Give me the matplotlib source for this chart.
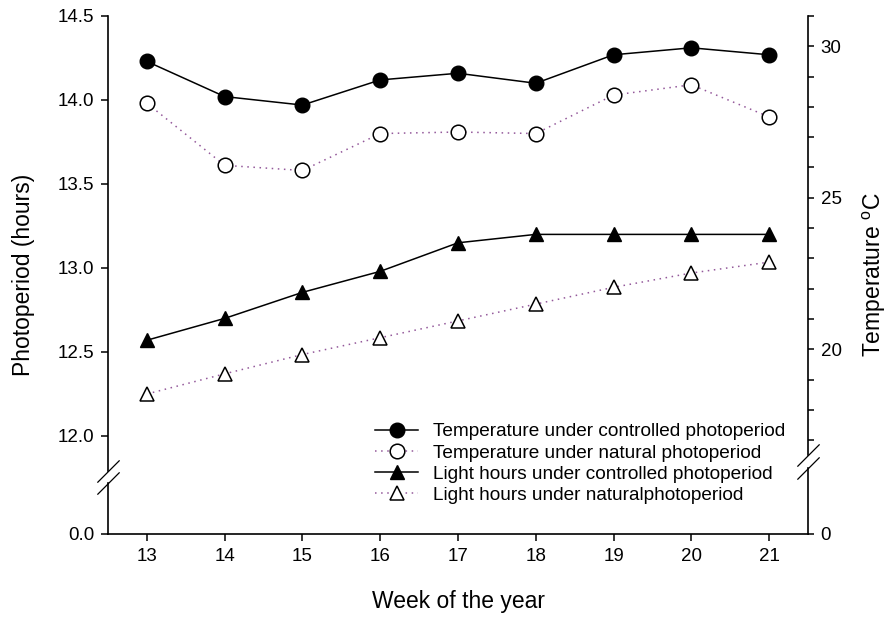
import numpy as np
import matplotlib
matplotlib.use("Agg")
import matplotlib.pyplot as plt
from matplotlib.lines import Line2D

plt.rcParams['font.family'] = ['Liberation Sans', 'DejaVu Sans']
plt.rcParams['mathtext.fontset'] = 'custom'
plt.rcParams['mathtext.rm'] = 'Liberation Sans'

weeks = [13, 14, 15, 16, 17, 18, 19, 20, 21]
temp_controlled = [29.50, 28.34, 28.06, 28.89, 29.11, 28.78, 29.72, 29.95, 29.72]
temp_natural = [28.12, 26.07, 25.90, 27.12, 27.17, 27.12, 28.39, 28.73, 27.67]
light_controlled = [12.57, 12.70, 12.855, 12.98, 13.15, 13.20, 13.20, 13.20, 13.20]
light_natural = [12.25, 12.37, 12.485, 12.585, 12.685, 12.785, 12.885, 12.97, 13.035]

labels = ['Temperature under controlled photoperiod',
          'Temperature under natural photoperiod',
          'Light hours under controlled photoperiod',
          'Light hours under naturalphotoperiod']

left_ticks = [0.0, 12.0, 12.5, 13.0, 13.5, 14.0, 14.5]
right_ticks = [0, 20, 25, 30]
right_minor = [17, 18, 19, 21, 22, 23, 24, 26, 27, 28, 29, 31]

purple = '#93589a'


def break_scale(lo_top, hi_bot, k, gap):
    # piecewise linear mapping: [0, lo_top] and [hi_bot, ...] keep slope k,
    # the part in between is squeezed into `gap` pixels
    p1 = lo_top * k
    p2 = p1 + gap

    def fwd(v):
        v = np.asarray(v, float)
        return np.where(v <= lo_top, v * k,
                        np.where(v >= hi_bot, p2 + (v - hi_bot) * k,
                                 p1 + (v - lo_top) / (hi_bot - lo_top) * gap))

    def inv(p):
        p = np.asarray(p, float)
        return np.where(p <= p1, p / k,
                        np.where(p >= p2, hi_bot + (p - p2) / k,
                                 lo_top + (p - p1) / gap * (hi_bot - lo_top)))
    return fwd, inv


fig = plt.figure(figsize=(8.93, 6.21), dpi=100)
ax = fig.add_axes([108 / 893, 87 / 621, 700 / 893, 518 / 621])
ax2 = ax.twinx()

# left axis: 0 .. 0.304 | break | 11.792 .. 14.5
lo_L, hi_L = 0.304, 11.792
ax.set_yscale('function', functions=break_scale(lo_L, hi_L, 168, 12))
ax.set_ylim(0, 14.5)
# right axis: 0 .. 2.18 | break | 16.51 .. 31
lo_R, hi_R = 2.18, 16.51
ax2.set_yscale('function', functions=break_scale(lo_R, hi_R, 30.3, 13))
ax2.set_ylim(0, 31)
ax.set_xlim(12.5, 21.5)

ax.plot(weeks, light_controlled, color='black', lw=1.1, marker='^', ms=9.5,
        mfc='black', mec='black', label=labels[2], clip_on=False)
ax.plot(weeks, light_natural, color=purple, lw=1.1, ls=(0, (1, 3)), marker='^', ms=9.5,
        mfc='white', mec='black', mew=1.1, label=labels[3], clip_on=False)
ax2.plot(weeks, temp_controlled, color='black', lw=1.1, marker='o', ms=10.5,
         mfc='black', mec='black', label=labels[0], clip_on=False)
ax2.plot(weeks, temp_natural, color=purple, lw=1.1, ls=(0, (1, 3)), marker='o', ms=10.5,
         mfc='white', mec='black', mew=1.1, label=labels[1], clip_on=False)

for a in (ax, ax2):
    for s in a.spines.values():
        s.set_visible(False)
ax.spines['bottom'].set_visible(True)
ax.spines['bottom'].set_linewidth(1.2)

# broken spines drawn as two pieces + slash marks
slash = [(-1, -1), (1, 1)]
tl = ax.get_yaxis_transform()
ax.plot([0, 0], [0, lo_L], transform=tl, color='black', lw=1.2, clip_on=False)
ax.plot([0, 0], [hi_L, 14.5], transform=tl, color='black', lw=1.2, clip_on=False)
ax.plot([0, 0], [lo_L, hi_L], transform=tl, ls='none', marker=slash, ms=16,
        mec='black', mew=0.9, clip_on=False)
tr = ax2.get_yaxis_transform()
ax2.plot([1, 1], [0, lo_R], transform=tr, color='black', lw=1.2, clip_on=False)
ax2.plot([1, 1], [hi_R, 31], transform=tr, color='black', lw=1.2, clip_on=False)
ax2.plot([1, 1], [lo_R, hi_R], transform=tr, ls='none', marker=slash, ms=16,
         mec='black', mew=0.9, clip_on=False)

ax.set_xticks(weeks)
ax.set_yticks(left_ticks)
ax.set_yticklabels([f'{t:.1f}' for t in left_ticks])
ax.yaxis.set_minor_locator(matplotlib.ticker.NullLocator())
ax2.set_yticks(right_ticks)
ax2.set_yticks(right_minor, minor=True)
ax2.yaxis.set_minor_formatter(matplotlib.ticker.NullFormatter())

ax.tick_params(axis='both', which='major', direction='out', length=5, width=1.1,
               labelsize=13.5, pad=5)
ax2.tick_params(axis='y', which='both', direction='out', length=4, width=1.1,
                labelsize=13.5, pad=5)

ax.set_xlabel('Week of the year', fontsize=16.5, labelpad=18)
ax.set_ylabel('Photoperiod (hours)', fontsize=16.5, labelpad=16)
ax2.set_ylabel('Temperature $^{\\mathrm{o}}$C', fontsize=16.5, labelpad=14)

handles = [Line2D([], [], color='black', lw=1.1, marker='o', ms=10.5, mfc='black', mec='black'),
           Line2D([], [], color=purple, lw=1.1, ls=(0, (1, 3)), marker='o', ms=10.5, mfc='white',
                  mec='black', mew=1.1),
           Line2D([], [], color='black', lw=1.1, marker='^', ms=9.5, mfc='black', mec='black'),
           Line2D([], [], color=purple, lw=1.1, ls=(0, (1, 3)), marker='^', ms=9.5, mfc='white',
                  mec='black', mew=1.1)]
ax2.legend(handles, labels, loc='upper left', bbox_to_anchor=(0.381, 0.214),
           frameon=False, fontsize=13.7, handlelength=2.3, handletextpad=0.75,
           labelspacing=0.2, borderpad=0, borderaxespad=0, numpoints=1)

fig.savefig('out.png', dpi=100)
